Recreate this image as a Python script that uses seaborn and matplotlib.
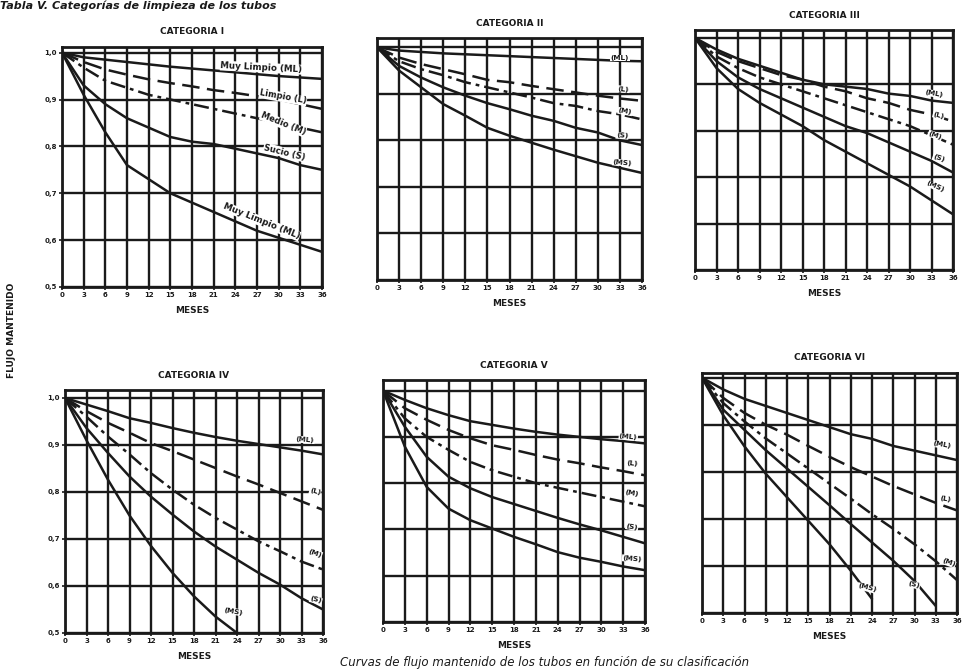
import numpy as np
import pandas as pd
import matplotlib
matplotlib.use("Agg")
import matplotlib.pyplot as plt
import seaborn as sns

# ---------------- data ----------------
MESES = [0, 3, 6, 9, 12, 15, 18, 21, 24, 27, 30, 33, 36]
Y_TICKS = [0.5, 0.6, 0.7, 0.8, 0.9, 1.0]
Y_TICK_LABELS = ["0,5", "0,6", "0,7", "0,8", "0,9", "1,0"]
SERIES = ["ML", "L", "M", "S", "MS"]
TITLES = ["CATEGORIA I", "CATEGORIA II", "CATEGORIA III",
          "CATEGORIA IV", "CATEGORIA V", "CATEGORIA VI"]

CAT_I = {
    "ML": [1.0, 0.99, 0.985, 0.98, 0.975, 0.97, 0.966, 0.962, 0.958, 0.954, 0.95, 0.947, 0.944],
    "L":  [1.0, 0.98, 0.964, 0.953, 0.943, 0.935, 0.928, 0.92, 0.914, 0.907, 0.90, 0.89, 0.88],
    "M":  [1.0, 0.968, 0.94, 0.925, 0.91, 0.90, 0.89, 0.88, 0.87, 0.86, 0.85, 0.84, 0.83],
    "S":  [1.0, 0.93, 0.89, 0.86, 0.84, 0.82, 0.81, 0.805, 0.795, 0.785, 0.775, 0.76, 0.75],
    "MS": [1.0, 0.91, 0.83, 0.76, 0.73, 0.70, 0.68, 0.66, 0.64, 0.62, 0.605, 0.59, 0.575],
}
CAT_II = {
    "ML": [1.0, 0.993, 0.99, 0.987, 0.985, 0.983, 0.981, 0.979, 0.977, 0.975, 0.973, 0.971, 0.97],
    "L":  [1.0, 0.978, 0.964, 0.953, 0.942, 0.93, 0.925, 0.917, 0.91, 0.903, 0.896, 0.89, 0.885],
    "M":  [1.0, 0.97, 0.953, 0.94, 0.925, 0.914, 0.903, 0.892, 0.88, 0.874, 0.863, 0.856, 0.845],
    "S":  [1.0, 0.96, 0.935, 0.914, 0.896, 0.88, 0.867, 0.853, 0.842, 0.827, 0.817, 0.80, 0.79],
    "MS": [1.0, 0.95, 0.914, 0.878, 0.853, 0.827, 0.81, 0.795, 0.78, 0.766, 0.752, 0.741, 0.73],
}
CAT_III = {
    "ML": [1.0, 0.975, 0.955, 0.94, 0.925, 0.91, 0.90, 0.895, 0.89, 0.88, 0.875, 0.865, 0.86],
    "L":  [1.0, 0.97, 0.95, 0.935, 0.92, 0.91, 0.895, 0.885, 0.87, 0.86, 0.845, 0.835, 0.82],
    "M":  [1.0, 0.96, 0.935, 0.915, 0.90, 0.885, 0.87, 0.855, 0.84, 0.825, 0.81, 0.79, 0.77],
    "S":  [1.0, 0.95, 0.915, 0.89, 0.87, 0.85, 0.83, 0.81, 0.795, 0.775, 0.755, 0.735, 0.71],
    "MS": [1.0, 0.935, 0.89, 0.86, 0.835, 0.81, 0.78, 0.755, 0.73, 0.705, 0.68, 0.65, 0.62],
}
CAT_IV = {
    "ML": [1.0, 0.986, 0.972, 0.957, 0.947, 0.936, 0.926, 0.917, 0.909, 0.902, 0.895, 0.888, 0.88],
    "L":  [1.0, 0.972, 0.947, 0.926, 0.904, 0.887, 0.869, 0.851, 0.833, 0.816, 0.798, 0.78, 0.762],
    "M":  [1.0, 0.96, 0.918, 0.88, 0.84, 0.805, 0.773, 0.745, 0.72, 0.695, 0.674, 0.652, 0.635],
    "S":  [1.0, 0.936, 0.883, 0.833, 0.79, 0.752, 0.716, 0.684, 0.656, 0.628, 0.603, 0.574, 0.55],
    "MS": [1.0, 0.91, 0.826, 0.75, 0.685, 0.628, 0.578, 0.535, 0.50],
}
CAT_V = {
    "ML": [1.0, 0.98, 0.962, 0.947, 0.934, 0.926, 0.918, 0.911, 0.905, 0.90, 0.895, 0.891, 0.886],
    "L":  [1.0, 0.962, 0.937, 0.915, 0.897, 0.882, 0.872, 0.861, 0.851, 0.843, 0.834, 0.826, 0.817],
    "M":  [1.0, 0.94, 0.90, 0.872, 0.846, 0.828, 0.814, 0.80, 0.79, 0.78, 0.77, 0.76, 0.75],
    "S":  [1.0, 0.922, 0.857, 0.814, 0.789, 0.77, 0.755, 0.74, 0.725, 0.711, 0.698, 0.684, 0.67],
    "MS": [1.0, 0.879, 0.792, 0.745, 0.72, 0.702, 0.684, 0.668, 0.651, 0.639, 0.63, 0.62, 0.612],
}
CAT_VI = {
    "ML": [1.0, 0.975, 0.955, 0.94, 0.925, 0.91, 0.895, 0.88, 0.87, 0.855, 0.845, 0.835, 0.825],
    "L":  [1.0, 0.957, 0.925, 0.90, 0.879, 0.855, 0.832, 0.81, 0.79, 0.77, 0.752, 0.734, 0.718],
    "M":  [1.0, 0.946, 0.907, 0.871, 0.839, 0.807, 0.775, 0.743, 0.71, 0.679, 0.646, 0.61, 0.57],
    "S":  [1.0, 0.932, 0.889, 0.846, 0.807, 0.768, 0.729, 0.689, 0.65, 0.611, 0.568, 0.515],
    "MS": [1.0, 0.92, 0.854, 0.796, 0.746, 0.696, 0.646, 0.59, 0.53],
}
CATS = [CAT_I, CAT_II, CAT_III, CAT_IV, CAT_V, CAT_VI]

# ---------------- style ----------------
sns.set_theme(style="white")
plt.rcParams["font.family"] = ["DejaVu Sans"]
LINE_STYLES = {"ML": "-", "L": (0, (7, 3)), "M": (0, (6, 2, 1.5, 2)), "S": "-", "MS": "-"}

# axes boxes in pixels: left, top, right, bottom
BOXES = [(62, 47, 322, 287), (377, 38, 642, 280), (695, 30, 953, 270),
         (65, 390, 323, 633), (383, 380, 645, 622), (702, 373, 957, 613)]
YTOP = [1.012, 1.02, 1.017, 1.017, 1.023, 1.01]

# label placements (text, month, value, rotation, size)
LABELS = [
    {"ML": ("Muy Limpio (ML)", 27.6, 0.968, -3, 6.3), "L": ("Limpio (L)", 30.6, 0.905, -10, 6.0),
     "M": ("Medio (M)", 30.6, 0.848, -22, 6.0), "S": ("Sucio (S)", 30.8, 0.787, -14, 6.0),
     "MS": ("Muy Limpio (ML)", 27.6, 0.64, -22, 6.3)},
    {"ML": ("(ML)", 33.0, 0.977, 0, 5.2), "L": ("(L)", 33.5, 0.91, -5, 5.2), "M": ("(M)", 33.7, 0.862, -10, 5.2),
     "S": ("(S)", 33.3, 0.81, -5, 5.2), "MS": ("(MS)", 33.3, 0.752, -5, 5.2)},
    {"ML": ("(ML)", 33.3, 0.88, -10, 5.2), "L": ("(L)", 34.0, 0.833, -15, 5.2), "M": ("(M)", 33.5, 0.79, -20, 5.2),
     "S": ("(S)", 34.0, 0.74, -20, 5.2), "MS": ("(MS)", 33.5, 0.68, -25, 5.2)},
    {"ML": ("(ML)", 33.5, 0.911, -5, 5.2), "L": ("(L)", 34.9, 0.80, -15, 5.2), "M": ("(M)", 34.9, 0.67, -20, 5.2),
     "S": ("(S)", 35.0, 0.57, -15, 5.2), "MS": ("(MS)", 23.5, 0.546, -10, 5.2)},
    {"ML": ("(ML)", 33.7, 0.90, -5, 5.2), "L": ("(L)", 34.2, 0.843, -5, 5.2), "M": ("(M)", 34.2, 0.778, -10, 5.2),
     "S": ("(S)", 34.2, 0.706, -10, 5.2), "MS": ("(MS)", 34.2, 0.637, -5, 5.2)},
    {"ML": ("(ML)", 33.9, 0.857, -10, 5.2), "L": ("(L)", 34.4, 0.743, -10, 5.2), "M": ("(M)", 34.8, 0.607, -20, 5.2),
     "S": ("(S)", 29.9, 0.56, -15, 5.2), "MS": ("(MS)", 23.3, 0.553, -15, 5.2)},
]

W, H = 963, 670
fig = plt.figure(figsize=(W / 100, H / 100), dpi=100)
INK = "#1a1a1a"

for i, (cat, box) in enumerate(zip(CATS, BOXES)):
    l, t, r, b = box
    ax = fig.add_axes([l / W, 1 - b / H, (r - l) / W, (b - t) / H])
    ax.set_facecolor("white")
    for s in SERIES:
        vals = cat[s]
        df = pd.DataFrame({"mes": MESES[:len(vals)], "flujo": vals})
        sns.lineplot(data=df, x="mes", y="flujo", ax=ax, color=INK, lw=1.8,
                     linestyle=LINE_STYLES[s], legend=False, errorbar=None)
        txt, lx, ly, rot, fs = LABELS[i][s]
        ax.text(lx, ly, txt, fontsize=fs, fontweight="bold", color=INK,
                ha="center", va="center", rotation=rot, zorder=5,
                bbox=dict(facecolor="white", edgecolor="none", pad=0.3))
    ax.set_xlim(0, 36)
    ax.set_ylim(0.5, YTOP[i])
    ax.set_xticks(MESES)
    ax.set_yticks(Y_TICKS)
    ax.xaxis.grid(True, which="major", color=INK, lw=1.7)
    ax.yaxis.grid(True, which="major", color=INK, lw=1.7)
    ax.set_axisbelow(True)
    for sp in ax.spines.values():
        sp.set_color(INK)
        sp.set_linewidth(2.0)
    ax.set_xticklabels([str(m) for m in MESES], fontsize=5, fontweight="bold", color=INK)
    if i in (0, 3):
        ax.set_yticklabels(Y_TICK_LABELS, fontsize=5, fontweight="bold", color=INK)
    else:
        ax.set_yticklabels([])
    ax.tick_params(axis="both", length=2, width=1.2, color=INK, pad=1.5,
                   bottom=True, left=(i in (0, 3)))
    ax.set_xlabel("MESES", fontsize=6.5, fontweight="bold", color=INK, labelpad=6)
    ax.set_ylabel("")
    ax.set_title(TITLES[i], fontsize=6.5, fontweight="bold", color=INK, pad=9)

fig.text(12 / W, 1 - 330 / H, "FLUJO MANTENIDO", rotation=90, ha="center", va="center",
         fontsize=6.5, fontweight="bold", color=INK)
fig.text(0.0, 0.999, "Tabla V. Categorías de limpieza de los tubos", ha="left", va="top",
         fontsize=8, fontweight="bold", style="italic", color=INK)
fig.text(545 / W, 0.002, "Curvas de flujo mantenido de los tubos en función de su clasificación",
         ha="center", va="bottom", fontsize=8.5, style="italic", color=INK)

fig.savefig("out.png", dpi=100, facecolor="white")
